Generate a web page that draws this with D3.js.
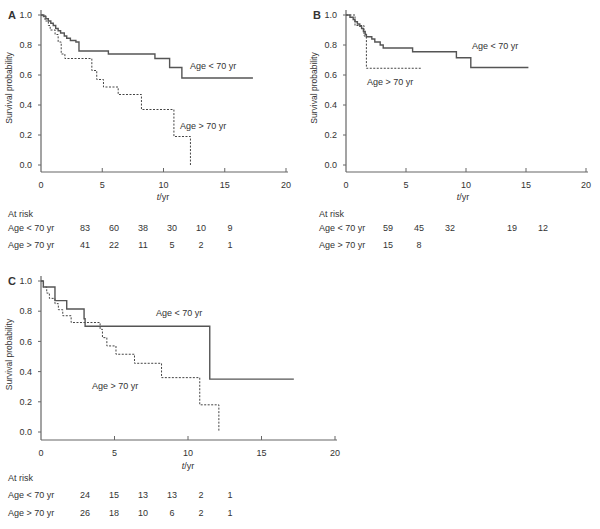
<!DOCTYPE html>
<html><head><meta charset="utf-8">
<script src="https://cdn.jsdelivr.net/npm/d3@7"></script>
<style>body{margin:0;background:#fff}svg{display:block}text{font-family:"Liberation Sans",Arial,sans-serif;fill:#333}</style>
</head><body>
<script>
// ---- data ----
const xTicks = [0,5,10,15,20];
const yTicks = [0,0.2,0.4,0.6,0.8,1.0];
const groupLabels = ["Age < 70 yr","Age > 70 yr"];

const A_young_t = [0,0.2,0.4,0.6,0.8,1.0,1.2,1.4,1.6,1.9,2.1,2.4,2.85,3.1,5.5,9.3,10.5,11.5,17.3];
const A_young_s = [1,0.99,0.975,0.96,0.945,0.93,0.91,0.895,0.88,0.86,0.845,0.83,0.82,0.76,0.74,0.71,0.65,0.58,0.58];
const A_old_t = [0,0.33,0.6,0.75,1.15,1.4,1.65,1.95,4.15,4.55,5.1,6.3,8.2,10.85,12.2];
const A_old_s = [1,0.96,0.93,0.9,0.87,0.82,0.74,0.71,0.63,0.57,0.52,0.47,0.37,0.19,0.0];
const A_young_risk = [83,60,38,30,10,9];
const A_old_risk = [41,22,11,5,2,1];

const B_young_t = [0,0.33,0.6,0.75,0.95,1.15,1.3,1.45,1.6,1.7,2.15,2.4,2.85,3.1,5.55,9.2,10.4,15.2];
const B_young_s = [1,0.985,0.97,0.955,0.94,0.925,0.91,0.89,0.87,0.855,0.84,0.82,0.80,0.78,0.755,0.715,0.65,0.65];
const B_old_t = [0,0.75,1.5,1.7,6.3];
const B_old_s = [1,0.93,0.86,0.645,0.645];
const B_young_risk = [59,45,32,null,19,12];
const B_old_risk = [15,8];

const C_young_t = [0,0.16,0.95,1.75,2.93,3.0,11.48,17.2];
const C_young_s = [1,0.96,0.87,0.815,0.75,0.70,0.35,0.35];
const C_old_t = [0,0.16,0.39,0.57,0.95,1.18,1.48,2.05,4.02,4.18,4.48,5.1,6.36,8.2,10.8,12.1];
const C_old_s = [1,0.96,0.92,0.885,0.85,0.81,0.77,0.725,0.68,0.625,0.57,0.515,0.455,0.36,0.18,0];
const C_young_risk = [24,15,13,13,2,1];
const C_old_risk = [26,18,10,6,2,1];

// ---- layout ----
const svg = d3.select("body").append("svg").attr("width",600).attr("height",529);

const panels = [
  {id:"A", x0:41, x1:286, yTop:15, yBot:165, axisY:172, axisTop:10,
   young:[A_young_t,A_young_s], old:[A_old_t,A_old_s], riskY:A_young_risk, riskO:A_old_risk,
   labY:[190,66], labO:[180,126], riskX:[85,230], textX:8, atRiskY:214, row1:228, row2:245, tX:163, tY:197},
  {id:"B", x0:346, x1:586, yTop:15, yBot:165, axisY:172, axisTop:10,
   young:[B_young_t,B_young_s], old:[B_old_t,B_old_s], riskY:B_young_risk, riskO:B_old_risk,
   labY:[472,46], labO:[367,82], riskX:[388,543], textX:319, atRiskY:214, row1:228, row2:245, tX:463, tY:197},
  {id:"C", x0:41, x1:335, yTop:281, yBot:432, axisY:440, axisTop:276,
   young:[C_young_t,C_young_s], old:[C_old_t,C_old_s], riskY:C_young_risk, riskO:C_old_risk,
   labY:[156,313], labO:[92,386], riskX:[85,230], textX:8, atRiskY:478, row1:495, row2:513, tX:188, tY:466}
];

panels.forEach(p => {
  const g = svg.append("g");
  const x = d3.scaleLinear().domain([0,20]).range([p.x0,p.x1]);
  const y = d3.scaleLinear().domain([0,1]).range([p.yBot,p.yTop]);
  const axCol = "#666";
  // y axis line
  g.append("line").attr("x1",p.x0).attr("x2",p.x0).attr("y1",p.axisTop).attr("y2",p.axisY)
    .attr("stroke",axCol).attr("stroke-width",1.2);
  // x axis line
  g.append("line").attr("x1",p.x0).attr("x2",p.x1+2).attr("y1",p.axisY).attr("y2",p.axisY)
    .attr("stroke",axCol).attr("stroke-width",1.2);
  // y ticks
  yTicks.forEach(v => {
    g.append("line").attr("x1",p.x0-3).attr("x2",p.x0).attr("y1",y(v)).attr("y2",y(v)).attr("stroke",axCol);
    g.append("text").attr("x",p.x0-9).attr("y",y(v)).attr("dy","0.35em").attr("text-anchor","end")
      .attr("font-size",9).text(d3.format(".1f")(v));
  });
  // x ticks
  xTicks.forEach(v => {
    if (v>0) g.append("line").attr("x1",x(v)).attr("x2",x(v)).attr("y1",p.axisY-4).attr("y2",p.axisY).attr("stroke",axCol);
    g.append("text").attr("x",x(v)).attr("y",p.axisY+13).attr("dy","0.35em").attr("text-anchor","middle")
      .attr("font-size",9).text(v);
  });
  // panel letter
  g.append("text").attr("x",p.x0-33).attr("y",p.yTop).attr("dy","0.35em").attr("font-size",11)
    .attr("font-weight","bold").attr("fill","#111").text(p.id);
  // y label
  g.append("text").attr("transform",`translate(${p.x0-29},${(p.yTop+p.yBot)/2 - 2}) rotate(-90)`)
    .attr("text-anchor","middle").attr("font-size",8.5).text("Survival probability");
  // x label
  const xl = g.append("text").attr("x",p.tX).attr("y",p.tY).attr("dy","0.35em").attr("text-anchor","middle").attr("font-size",9);
  xl.append("tspan").attr("font-style","italic").text("t");
  xl.append("tspan").text("/yr");
  // curves
  const line = d3.line().x(d=>x(d[0])).y(d=>y(d[1])).curve(d3.curveStepAfter);
  const yd = d3.zip(p.young[0],p.young[1]);
  const od = d3.zip(p.old[0],p.old[1]);
  g.append("path").attr("d",line(od)).attr("fill","none").attr("stroke","#444").attr("stroke-width",1)
    .attr("stroke-dasharray","2,1.5");
  g.append("path").attr("d",line(yd)).attr("fill","none").attr("stroke","#555").attr("stroke-width",1.4);
  // curve labels
  g.append("text").attr("x",p.labY[0]).attr("y",p.labY[1]).attr("dy","0.35em").attr("font-size",9).text(groupLabels[0]);
  g.append("text").attr("x",p.labO[0]).attr("y",p.labO[1]).attr("dy","0.35em").attr("font-size",9).text(groupLabels[1]);
  // at risk
  const rx = d3.scaleLinear().domain([0,5]).range(p.riskX);
  g.append("text").attr("x",p.textX).attr("y",p.atRiskY).attr("dy","0.35em").attr("font-size",9).text("At risk");
  [[p.riskY,p.row1,0],[p.riskO,p.row2,1]].forEach(([arr,ry,gi]) => {
    g.append("text").attr("x",p.textX).attr("y",ry).attr("dy","0.35em").attr("font-size",9).text(groupLabels[gi]);
    arr.forEach((v,i) => {
      if (v==null) return;
      g.append("text").attr("x",rx(i)).attr("y",ry).attr("dy","0.35em").attr("text-anchor","middle")
        .attr("font-size",9).text(v);
    });
  });
});
</script>
</body></html>
